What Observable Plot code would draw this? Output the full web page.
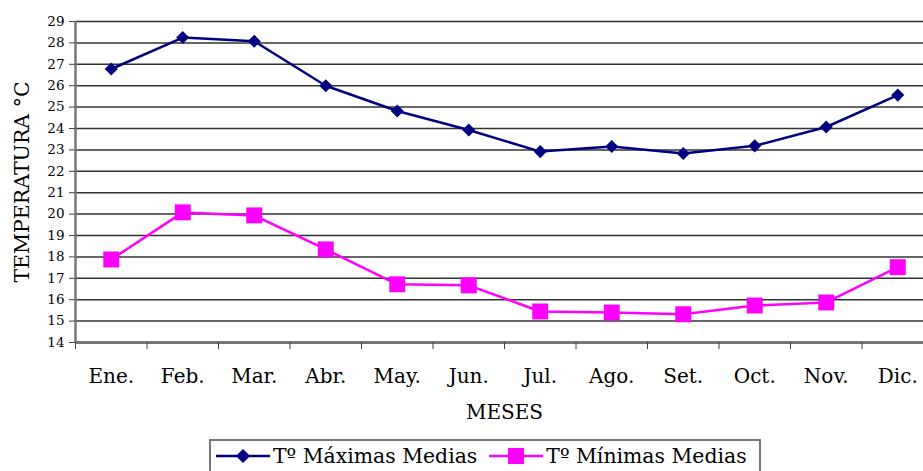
<!DOCTYPE html>
<html>
<head>
<meta charset="utf-8">
<script src="https://cdn.jsdelivr.net/npm/d3@7"></script>
<script src="https://cdn.jsdelivr.net/npm/@observablehq/plot@0.6"></script>
<style>
  html, body { margin: 0; padding: 0; background: #fff; overflow: hidden; }
  #chart svg { display: block; font-family: "DejaVu Serif", serif; }
  g[aria-label="y-axis label"] text, g[aria-label="y-axis label"] { font-size: 20.5px; }
  g[aria-label="x-axis label"] text, g[aria-label="x-axis label"] { font-size: 20px; }
  #legend {
    margin-left: 209px; margin-top: 2px; width: 548px; height: 30px;
    padding-top: 3px;
    border: 2px solid #777; border-bottom: none;
    font-family: "DejaVu Serif", serif; font-size: 20.4px; line-height: 22px; color: #000;
    display: flex; align-items: flex-start; white-space: nowrap;
  }
  #legend .item { display: flex; align-items: center; height: 24px; }
  #legend svg { display: block; }
</style>
</head>
<body>
<div id="chart"></div>
<div id="legend"></div>
<script>
const months = ["Ene.", "Feb.", "Mar.", "Abr.", "May.", "Jun.", "Jul.", "Ago.", "Set.", "Oct.", "Nov.", "Dic."];
const tMax = [26.78, 28.25, 28.08, 26.0, 24.82, 23.93, 22.92, 23.16, 22.83, 23.19, 24.07, 25.56];
const tMin = [17.88, 20.08, 19.94, 18.35, 16.72, 16.67, 15.45, 15.40, 15.32, 15.73, 15.87, 17.52];
const seriesNames = ["Tº Máximas Medias", "Tº Mínimas Medias"];
const seriesColors = ["#000080", "#ff00ff"];
const seriesSymbols = ["diamond2", "square"];
const yTicks = d3.range(14, 30);

const rows = months.map((m, i) => ({i, m, max: tMax[i], min: tMin[i]}));

const chart = Plot.plot({
  width: 923,
  height: 437,
  marginLeft: 75,
  marginRight: -10,
  marginTop: 21,
  marginBottom: 95,
  style: {fontFamily: "DejaVu Serif, serif", color: "#000", background: "#fff"},
  x: {type: "linear", domain: [0, months.length]},
  y: {domain: [14, 29]},
  marks: [
    Plot.ruleY(yTicks.filter(d => d > 14), {stroke: "#333", strokeWidth: 1.5}),
    Plot.ruleX([0], {stroke: "#777", strokeWidth: 2.5}),
    Plot.ruleY([14], {stroke: "#777", strokeWidth: 3}),
    Plot.axisY({ticks: yTicks, tickSize: 6, tickPadding: 5, fontSize: 13.5, stroke: "#444", label: null}),
    Plot.axisY({ticks: [], label: "TEMPERATURA °C", labelAnchor: "center", labelArrow: "none", labelOffset: 61}),
    Plot.axisX({ticks: d3.range(0, months.length + 1), tickFormat: () => "", tickSize: 7, stroke: "#444", label: null}),
    Plot.axisX({ticks: d3.range(months.length).map(i => i + 0.5), tickFormat: d => months[Math.floor(d)], tickSize: 0, tickPadding: 26, fontSize: 20, label: "MESES", labelAnchor: "center", labelArrow: "none", labelOffset: 76}),
    Plot.line(rows, {x: d => d.i + 0.5, y: "max", stroke: seriesColors[0], strokeWidth: 2.5}),
    Plot.dot(rows, {x: d => d.i + 0.5, y: "max", symbol: seriesSymbols[0], r: 5.9, fill: seriesColors[0], stroke: "none"}),
    Plot.line(rows, {x: d => d.i + 0.5, y: "min", stroke: seriesColors[1], strokeWidth: 2.5}),
    Plot.dot(rows, {x: d => d.i + 0.5, y: "min", symbol: seriesSymbols[1], r: 9, fill: seriesColors[1], stroke: "none"})
  ]
});
document.getElementById("chart").appendChild(chart);

// Legend
const legend = document.getElementById("legend");
seriesNames.forEach((name, k) => {
  const item = document.createElement("div");
  item.className = "item";
  item.style.marginLeft = k === 0 ? "5px" : "12px";
  const sw = d3.create("svg").attr("width", 54).attr("height", 24);
  sw.append("line").attr("x1", 0).attr("x2", 54).attr("y1", 12).attr("y2", 12)
    .attr("stroke", seriesColors[k]).attr("stroke-width", 2.5);
  const sym = seriesSymbols[k] === "square" ? d3.symbolSquare : d3.symbolDiamond2;
  const size = seriesSymbols[k] === "square" ? 9 * 9 * Math.PI : 6.3 * 6.3 * Math.PI;
  sw.append("path").attr("d", d3.symbol(sym, size)()).attr("transform", "translate(27,12)")
    .attr("fill", seriesColors[k]);
  item.appendChild(sw.node());
  const t = document.createElement("span");
  t.textContent = name;
  t.style.marginLeft = "3px";
  item.appendChild(t);
  legend.appendChild(item);
});
</script>
</body>
</html>
